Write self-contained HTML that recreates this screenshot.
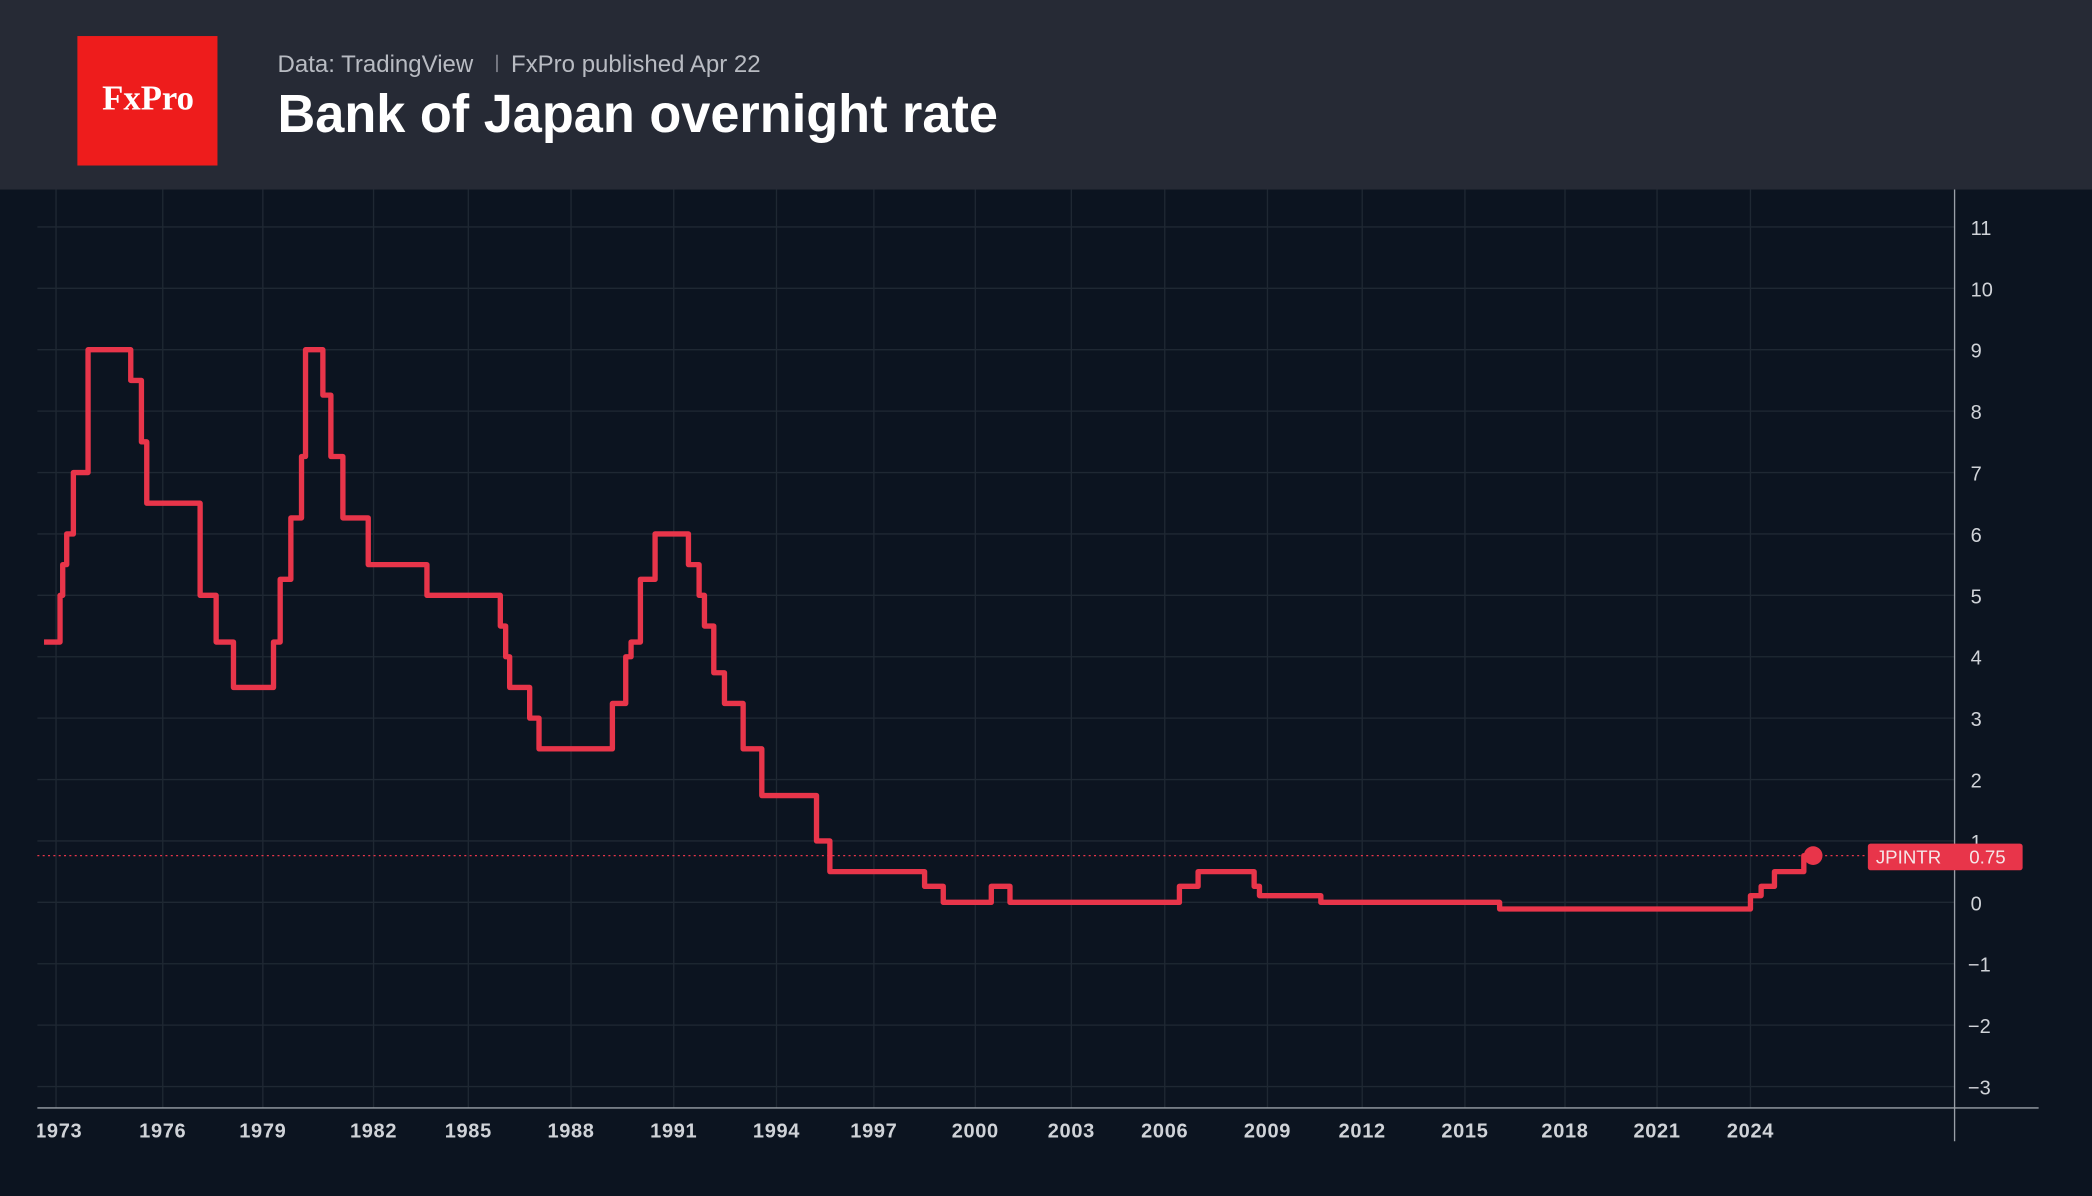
<!DOCTYPE html>
<html><head><meta charset="utf-8"><style>
html,body{margin:0;padding:0;background:#0c1420;}
svg{display:block;}
text{font-family:"Liberation Sans",sans-serif;}
</style></head><body>
<svg width="2092" height="1196" viewBox="0 0 1568 896" preserveAspectRatio="none" xmlns="http://www.w3.org/2000/svg">
<rect x="0" y="0" width="1568" height="896" fill="#0c1420"/>
<rect x="0" y="0" width="1568" height="142" fill="#262a35"/>
<rect x="58" y="27" width="105" height="97" fill="#ee1c1c"/>
<text x="111" y="82" font-size="26" font-weight="bold" fill="#fff" text-anchor="middle" style="font-family:'Liberation Serif',serif">FxPro</text>
<text x="208" y="54" font-size="18" fill="#b8bbc2">Data: TradingView</text>
<rect x="372" y="41" width="1" height="13" fill="#9a9da5"/>
<text x="383" y="54" font-size="18" fill="#b8bbc2">FxPro published Apr 22</text>
<text x="208" y="99" font-size="40" font-weight="bold" fill="#ffffff" textLength="540" lengthAdjust="spacingAndGlyphs">Bank of Japan overnight rate</text>
<g stroke="#1f2833" stroke-width="1">
<line x1="28" y1="170" x2="1465" y2="170"/><line x1="28" y1="216" x2="1465" y2="216"/>
<line x1="28" y1="262" x2="1465" y2="262"/><line x1="28" y1="308" x2="1465" y2="308"/>
<line x1="28" y1="354" x2="1465" y2="354"/><line x1="28" y1="400" x2="1465" y2="400"/>
<line x1="28" y1="446" x2="1465" y2="446"/><line x1="28" y1="492" x2="1465" y2="492"/>
<line x1="28" y1="538" x2="1465" y2="538"/><line x1="28" y1="584" x2="1465" y2="584"/>
<line x1="28" y1="630" x2="1465" y2="630"/><line x1="28" y1="676" x2="1465" y2="676"/>
<line x1="28" y1="722" x2="1465" y2="722"/><line x1="28" y1="768" x2="1465" y2="768"/>
<line x1="28" y1="814" x2="1465" y2="814"/>
<line x1="42" y1="142" x2="42" y2="830"/><line x1="122" y1="142" x2="122" y2="830"/>
<line x1="197" y1="142" x2="197" y2="830"/><line x1="280" y1="142" x2="280" y2="830"/>
<line x1="351" y1="142" x2="351" y2="830"/><line x1="428" y1="142" x2="428" y2="830"/>
<line x1="505" y1="142" x2="505" y2="830"/><line x1="582" y1="142" x2="582" y2="830"/>
<line x1="655" y1="142" x2="655" y2="830"/><line x1="731" y1="142" x2="731" y2="830"/>
<line x1="803" y1="142" x2="803" y2="830"/><line x1="873" y1="142" x2="873" y2="830"/>
<line x1="950" y1="142" x2="950" y2="830"/><line x1="1021" y1="142" x2="1021" y2="830"/>
<line x1="1098" y1="142" x2="1098" y2="830"/><line x1="1173" y1="142" x2="1173" y2="830"/>
<line x1="1242" y1="142" x2="1242" y2="830"/><line x1="1312" y1="142" x2="1312" y2="830"/>
</g>
<line x1="1465" y1="142" x2="1465" y2="855" stroke="#9aa0a8" stroke-width="1"/>
<line x1="28" y1="830" x2="1528" y2="830" stroke="#9aa0a8" stroke-width="1"/>
<g font-size="15" fill="#d0d3d8">
<text x="1477" y="176">11</text><text x="1477" y="222">10</text><text x="1477" y="268">9</text>
<text x="1477" y="314">8</text><text x="1477" y="360">7</text><text x="1477" y="406">6</text>
<text x="1477" y="452">5</text><text x="1477" y="498">4</text><text x="1477" y="544">3</text>
<text x="1477" y="590">2</text><text x="1477" y="636">1</text><text x="1477" y="682">0</text>
<text x="1475" y="728">−1</text><text x="1475" y="774">−2</text><text x="1475" y="820">−3</text>
</g>
<g font-size="15" fill="#d0d3d8" font-weight="bold" text-anchor="middle" letter-spacing="0.5">
<text x="44" y="852">1973</text><text x="122" y="852">1976</text><text x="197" y="852">1979</text>
<text x="280" y="852">1982</text><text x="351" y="852">1985</text><text x="428" y="852">1988</text>
<text x="505" y="852">1991</text><text x="582" y="852">1994</text><text x="655" y="852">1997</text>
<text x="731" y="852">2000</text><text x="803" y="852">2003</text><text x="873" y="852">2006</text>
<text x="950" y="852">2009</text><text x="1021" y="852">2012</text><text x="1098" y="852">2015</text>
<text x="1173" y="852">2018</text><text x="1242" y="852">2021</text><text x="1312" y="852">2024</text>
</g>
<rect x="0" y="836" width="28" height="24" fill="#0c1420"/>
<line x1="28" y1="641" x2="1400" y2="641" stroke="#e8354a" stroke-width="1" stroke-dasharray="1.5,2.5"/>
<path fill="none" stroke="#e8354a" stroke-width="4" stroke-linejoin="round" d="M33 481 H45 V446 H47 V423 H50 V400 H55 V354 H66 V262 H98 V285 H106 V331 H110 V377 H150 V446 H162 V481 H175 V515 H205 V481 H210 V434 H218 V388 H226 V342 H229 V262 H242 V296 H248 V342 H257 V388 H276 V423 H320 V446 H375 V469 H379 V492 H382 V515 H397 V538 H404 V561 H459 V527 H469 V492 H473 V481 H480 V434 H491 V400 H516 V423 H524 V446 H528 V469 H535 V504 H543 V527 H557 V561 H571 V596 H612 V630 H622 V653 H693 V664 H707 V676 H743 V664 H757 V676 H884 V664 H898 V653 H940 V664 H944 V671 H990 V676 H1124 V681 H1312 V671 H1320 V664 H1330 V653 H1352 V641 H1360"/>
<circle cx="1359" cy="641" r="7" fill="#e8354a"/>
<rect x="1400" y="632" width="116" height="20" rx="2" fill="#e8354a"/>
<text x="1406" y="647" font-size="14" fill="#f5e6e8">JPINTR</text>
<text x="1476" y="647" font-size="14" fill="#f5e6e8">0.75</text>
</svg>
</body></html>
